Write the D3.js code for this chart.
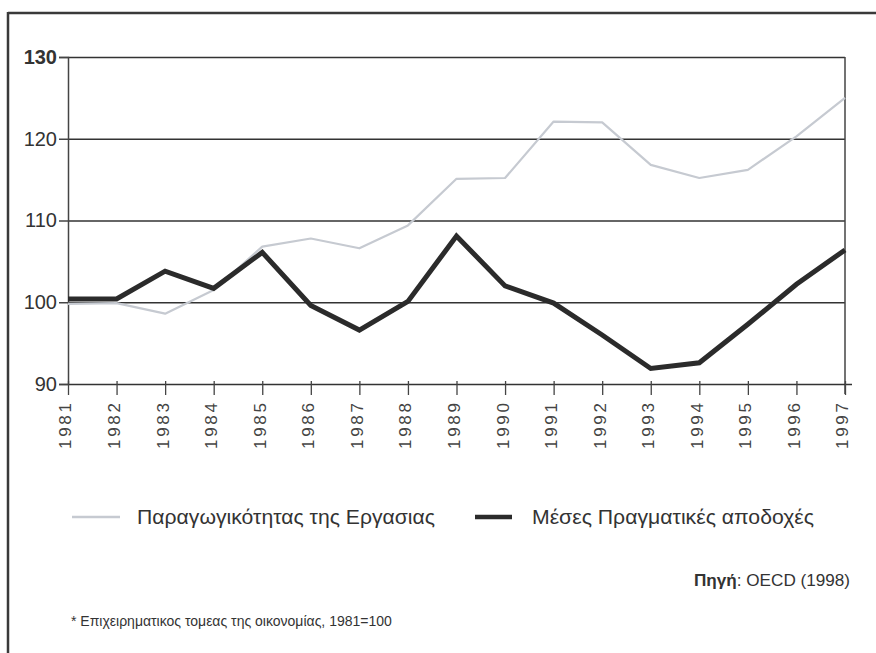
<!DOCTYPE html>
<html>
<head>
<meta charset="utf-8">
<script src="https://cdn.jsdelivr.net/npm/d3@7/dist/d3.min.js"></script>
<style>
  html, body { margin: 0; padding: 0; background: #fff; }
  svg { display: block; font-family: "Liberation Sans", Arial, sans-serif; }
</style>
</head>
<body>
<svg id="chart" width="876" height="653"></svg>
<script>
const years = ["1981","1982","1983","1984","1985","1986","1987","1988","1989","1990","1991","1992","1993","1994","1995","1996","1997"];
const productivity = [99.8, 99.9, 98.6, 101.5, 106.8, 107.8, 106.6, 109.4, 115.1, 115.2, 122.1, 122.0, 116.8, 115.2, 116.2, 120.3, 125.0];
const realWages = [100.4, 100.4, 103.8, 101.7, 106.1, 99.6, 96.6, 100.1, 108.1, 102.0, 99.9, 96.0, 91.9, 92.6, 97.3, 102.2, 106.4];
const yTicks = [90, 100, 110, 120, 130];
const seriesNames = ["Παραγωγικότητας της Εργασιας", "Μέσες Πραγματικές αποδοχές"];
const sourceLabel = "Πηγή";
const sourceText = ": OECD (1998)";
const footnote = "* Επιχειρηματικος τομεας της οικονομίας, 1981=100";

const svg = d3.select("#chart");
const pLeft = 68, pRight = 845, pTop = 57, pBottom = 384;
const x = d3.scalePoint().domain(years).range([pLeft, pRight]);
const y = d3.scaleLinear().domain([90, 130]).range([pBottom, pTop]);
const ink = "#2b2b2b";
const grey = "#c6cad1";

// frame (top and left border)
svg.append("line").attr("x1", 8).attr("x2", 876).attr("y1", 13).attr("y2", 13)
  .attr("stroke", "#3a3a3a").attr("stroke-width", 2.5);
svg.append("line").attr("x1", 8).attr("x2", 8).attr("y1", 12).attr("y2", 653)
  .attr("stroke", "#3a3a3a").attr("stroke-width", 2.5);

// gridlines
const grid = svg.append("g").attr("transform", `translate(${pLeft},0)`)
  .call(d3.axisLeft(y).tickValues(yTicks.filter(v => v > 90)).tickSize(-(pRight - pLeft)).tickFormat(""));
grid.select(".domain").remove();
grid.selectAll("line").attr("stroke", "#333").attr("stroke-width", 1.6);

// right frame line
svg.append("line").attr("x1", pRight).attr("x2", pRight).attr("y1", y(130)).attr("y2", pBottom + 10)
  .attr("stroke", "#444").attr("stroke-width", 1.5);

// y axis
const yAxis = svg.append("g").attr("transform", `translate(${pLeft},0)`)
  .call(d3.axisLeft(y).tickValues(yTicks).tickSize(9).tickPadding(2));
yAxis.select(".domain").attr("stroke", "#444").attr("stroke-width", 1.5);
yAxis.selectAll("line").attr("stroke", "#444").attr("stroke-width", 1.5);
yAxis.selectAll("text").attr("font-size", 20).attr("fill", "#333")
  .attr("font-weight", d => d === 130 ? "bold" : "normal");

// x axis
const xAxis = svg.append("g").attr("transform", `translate(0,${pBottom})`)
  .call(d3.axisBottom(x).tickSize(11).tickSizeOuter(0));
xAxis.select(".domain").attr("stroke", "#333").attr("stroke-width", 1.6)
  .attr("d", `M${pLeft},0.5H${pRight + 7}`);
xAxis.selectAll(".tick line").attr("stroke", "#444").attr("stroke-width", 1.3).attr("y1", -3);
xAxis.selectAll(".tick text")
  .attr("font-size", 17).attr("fill", "#444")
  .attr("text-anchor", "end")
  .attr("transform", "rotate(-90)")
  .attr("x", -19).attr("y", -3).attr("dy", "0.35em")
  .attr("textLength", 46).attr("lengthAdjust", "spacing");

// lines
const line = d3.line().x((d, i) => x(years[i])).y(d => y(d));
svg.append("path").datum(productivity).attr("d", line)
  .attr("fill", "none").attr("stroke", grey).attr("stroke-width", 2.2)
  .attr("stroke-linejoin", "round");
svg.append("path").datum(realWages).attr("d", line)
  .attr("fill", "none").attr("stroke", ink).attr("stroke-width", 5)
  .attr("stroke-linejoin", "miter");

// legend
const legY = 517;
svg.append("line").attr("x1", 72).attr("x2", 120).attr("y1", legY).attr("y2", legY)
  .attr("stroke", grey).attr("stroke-width", 2.5);
svg.append("text").attr("x", 137).attr("y", legY + 7).attr("font-size", 20).attr("fill", "#333")
  .attr("textLength", 298).attr("lengthAdjust", "spacingAndGlyphs")
  .text(seriesNames[0]);
svg.append("line").attr("x1", 475).attr("x2", 512).attr("y1", legY).attr("y2", legY)
  .attr("stroke", ink).attr("stroke-width", 4.5);
svg.append("text").attr("x", 532).attr("y", legY + 7).attr("font-size", 20).attr("fill", "#333")
  .attr("textLength", 282).attr("lengthAdjust", "spacingAndGlyphs")
  .text(seriesNames[1]);

// source
const src = svg.append("text").attr("x", 694).attr("y", 586)
  .attr("font-size", 16).attr("fill", "#333")
  .attr("textLength", 156).attr("lengthAdjust", "spacingAndGlyphs");
src.append("tspan").attr("font-weight", "bold").text(sourceLabel);
src.append("tspan").text(sourceText);

// footnote
svg.append("text").attr("x", 71).attr("y", 626).attr("font-size", 14).attr("fill", "#333")
  .text(footnote);
</script>
</body>
</html>
